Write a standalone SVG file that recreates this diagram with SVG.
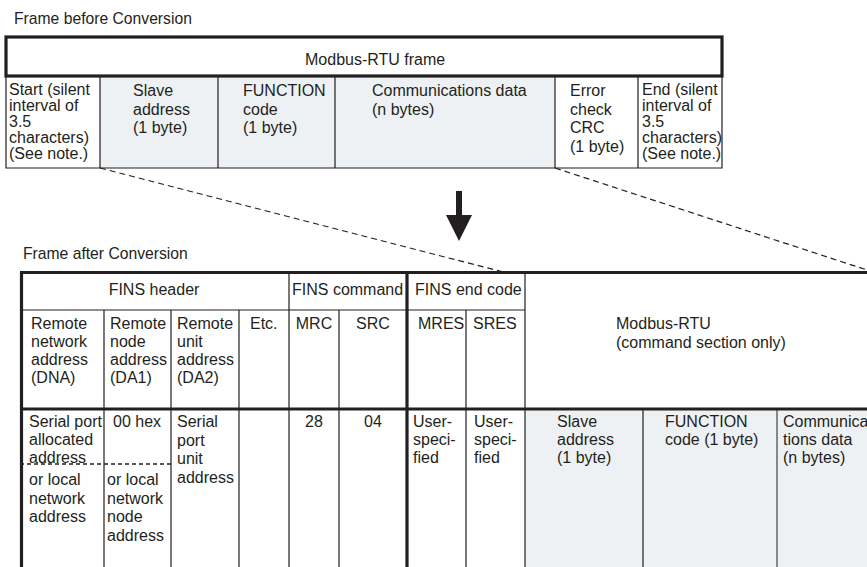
<svg xmlns="http://www.w3.org/2000/svg" width="867" height="567" viewBox="0 0 867 567">
<style>
text{font-family:"Liberation Sans",Arial,Helvetica,sans-serif;font-size:16px;fill:#231f20}
.t{font-size:15.7px}
.c{text-anchor:middle}
.thin{stroke:#231f20;stroke-width:1.2;fill:none}
.thick{stroke:#231f20;stroke-width:3.2;fill:none}
.gray{stroke:#6d6e71;stroke-width:1.6;fill:none}
.shade{fill:#eef1f3;stroke:none}
.dash{stroke:#231f20;stroke-width:1.2;stroke-dasharray:6 4;fill:none}
.sdash{stroke:#231f20;stroke-width:1.4;stroke-dasharray:4 3;fill:none}
</style>
<rect width="867" height="567" fill="#ffffff"/>

<g id="before">
<text x="14" y="24" class="t">Frame before Conversion</text>
<rect class="shade" x="100" y="77" width="455" height="91"/>
<g id="modbus-frame-header">
<rect class="thick" x="6" y="37" width="716" height="39"/>
<text x="305" y="65">Modbus-RTU frame</text>
</g>
<path class="thin" d="M6 76V168H722V76M100 76V168M218 76V168M335 76V168M555 76V168M638 76V168"/>
<g id="start-cell">
<text x="9" y="95">Start (silent</text>
<text x="9" y="111">interval of</text>
<text x="9" y="127">3.5</text>
<text x="9" y="143">characters)</text>
<text x="9" y="159">(See note.)</text>
</g>
<g id="slave-cell">
<text x="133" y="96">Slave</text>
<text x="133" y="114.5">address</text>
<text x="133" y="133">(1 byte)</text>
</g>
<g id="function-cell">
<text x="243" y="96">FUNCTION</text>
<text x="243" y="114.5">code</text>
<text x="243" y="133">(1 byte)</text>
</g>
<g id="data-cell">
<text x="372" y="96">Communications data</text>
<text x="372" y="114.5">(n bytes)</text>
</g>
<g id="crc-cell">
<text x="570" y="96">Error</text>
<text x="570" y="114.5">check</text>
<text x="570" y="133">CRC</text>
<text x="570" y="151.5">(1 byte)</text>
</g>
<g id="end-cell">
<text x="642" y="95">End (silent</text>
<text x="642" y="111">interval of</text>
<text x="642" y="127">3.5</text>
<text x="642" y="143">characters)</text>
<text x="642" y="159">(See note.)</text>
</g>
</g>

<g id="connectors">
<path class="dash" d="M100 168L503 272"/>
<path class="dash" d="M555 168L867 270"/>
<g id="arrow">
<rect x="456" y="191" width="6" height="25" fill="#231f20"/>
<polygon points="446,215 472,215 459,241" fill="#231f20"/>
</g>
</g>

<g id="after">
<text x="23" y="259" class="t">Frame after Conversion</text>
<rect class="shade" x="525" y="409" width="342" height="158"/>
<path class="thin" d="M20 310H525M104 310V567M171 310V567M239 310V567M289 272V567M339 310V567M466 310V567M525 272V567M643 409V567"/>
<path class="gray" d="M777 409V567"/>
<path class="sdash" d="M20 464H171"/>
<path class="thick" d="M20 272.5H867M21.5 272V567M407 272V567M20 409H867"/>
<g id="fins-header">
<text x="154" y="295" class="c">FINS header</text>
</g>
<g id="fins-command">
<text x="292" y="295">FINS command</text>
</g>
<g id="fins-end-code">
<text x="415" y="295">FINS end code</text>
</g>
<g id="dna">
<text x="31" y="329">Remote</text>
<text x="31" y="347">network</text>
<text x="31" y="365">address</text>
<text x="31" y="383">(DNA)</text>
<text x="29" y="427">Serial port</text>
<text x="29" y="445">allocated</text>
<text x="29" y="463">address</text>
<text x="29" y="485">or local</text>
<text x="29" y="503.5">network</text>
<text x="29" y="522">address</text>
</g>
<g id="da1">
<text x="110" y="329">Remote</text>
<text x="110" y="347">node</text>
<text x="110" y="365">address</text>
<text x="110" y="383">(DA1)</text>
<text x="113" y="427">00 hex</text>
<text x="107" y="485">or local</text>
<text x="107" y="503.5">network</text>
<text x="107" y="522">node</text>
<text x="107" y="540.5">address</text>
</g>
<g id="da2">
<text x="177" y="329">Remote</text>
<text x="177" y="347">unit</text>
<text x="177" y="365">address</text>
<text x="177" y="383">(DA2)</text>
<text x="177" y="427">Serial</text>
<text x="177" y="445.5">port</text>
<text x="177" y="464">unit</text>
<text x="177" y="482.5">address</text>
</g>
<g id="etc">
<text x="250" y="329">Etc.</text>
</g>
<g id="mrc">
<text x="314" y="329" class="c">MRC</text>
<text x="314" y="427" class="c">28</text>
</g>
<g id="src">
<text x="373" y="329" class="c">SRC</text>
<text x="373" y="427" class="c">04</text>
</g>
<g id="mres">
<text x="418" y="329">MRES</text>
<text x="413" y="427">User-</text>
<text x="413" y="445">speci-</text>
<text x="413" y="463">fied</text>
</g>
<g id="sres">
<text x="473" y="329">SRES</text>
<text x="474" y="427">User-</text>
<text x="474" y="445">speci-</text>
<text x="474" y="463">fied</text>
</g>
<g id="modbus-rtu">
<text x="616" y="329">Modbus-RTU</text>
<text x="616" y="347.5">(command section only)</text>
</g>
<g id="slave">
<text x="557" y="427">Slave</text>
<text x="557" y="445">address</text>
<text x="557" y="463">(1 byte)</text>
</g>
<g id="function">
<text x="665" y="427">FUNCTION</text>
<text x="665" y="445">code (1 byte)</text>
</g>
<g id="comm-data">
<text x="783" y="427">Communica</text>
<text x="783" y="445">tions data</text>
<text x="783" y="463">(n bytes)</text>
</g>
</g>
</svg>
